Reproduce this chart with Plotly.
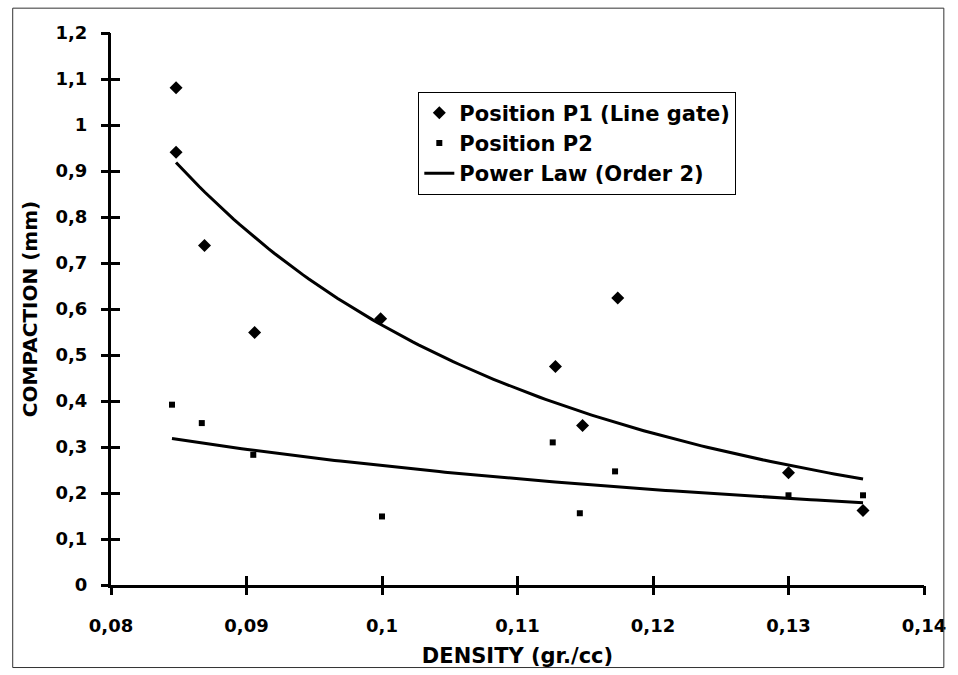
import numpy as np
import plotly.graph_objects as go

# ---- data ----
p1_density = [0.0848, 0.0848, 0.0869, 0.0906, 0.0999, 0.1128, 0.1148, 0.1174, 0.1300, 0.1355]
p1_compaction = [1.081, 0.941, 0.738, 0.549, 0.579, 0.475, 0.347, 0.624, 0.244, 0.162]

p2_density = [0.0845, 0.0867, 0.0905, 0.1000, 0.1126, 0.1146, 0.1172, 0.1300, 0.1355]
p2_compaction = [0.392, 0.352, 0.283, 0.149, 0.310, 0.156, 0.247, 0.195, 0.195]

x_range = [0.08, 0.14]
y_range = [0, 1.2]
x_tickvals = [0.08, 0.09, 0.10, 0.11, 0.12, 0.13, 0.14]
x_ticktext = ["0,08", "0,09", "0,1", "0,11", "0,12", "0,13", "0,14"]
y_tickvals = [0, 0.1, 0.2, 0.3, 0.4, 0.5, 0.6, 0.7, 0.8, 0.9, 1.0, 1.1, 1.2]
y_ticktext = ["0", "0,1", "0,2", "0,3", "0,4", "0,5", "0,6", "0,7", "0,8", "0,9", "1", "1,1", "1,2"]


def power_fit(xs, ys, n=120):
    lx, ly = np.log(xs), np.log(ys)
    b, ln_a = np.polyfit(lx, ly, 1)
    xx = np.linspace(min(xs), max(xs), n)
    return xx, np.exp(ln_a) * xx ** b


FONT = "DejaVu Sans"
TICK = 9  # tick half-length in pixels (ticks cross the axis line)

fig = go.Figure()
fig.add_trace(go.Scatter(
    x=p1_density, y=p1_compaction, mode="markers", name="Position P1 (Line gate)",
    marker=dict(symbol="diamond", size=10, color="black"),
    legendgroup="a"))
fig.add_trace(go.Scatter(
    x=p2_density, y=p2_compaction, mode="markers", name="Position P2",
    marker=dict(symbol="square", size=6, color="black"),
    legendgroup="b"))
fx1, fy1 = power_fit(p1_density, p1_compaction)
fig.add_trace(go.Scatter(
    x=fx1, y=fy1, mode="lines", name="Power Law (Order 2)",
    line=dict(color="black", width=3), legendgroup="c"))
fx2, fy2 = power_fit(p2_density, p2_compaction)
fig.add_trace(go.Scatter(
    x=fx2, y=fy2, mode="lines", showlegend=False,
    line=dict(color="black", width=3), legendgroup="c"))
# invisible carriers for the overlaid axes (outer tick halves, and labels)
for xa, ya in (("x2", "y2"), ("x3", "y3")):
    fig.add_trace(go.Scatter(
        x=p1_density, y=p1_compaction, mode="markers", xaxis=xa, yaxis=ya,
        marker=dict(opacity=0), showlegend=False, hoverinfo="skip"))

tickfont = dict(family=FONT, size=18, color="black", weight="bold")
clear = "rgba(0,0,0,0)"

frame = dict(
    type="rect", xref="paper", yref="paper",
    x0=-0.1209, x1=1.0244, y0=-0.1495, y1=1.045,
    line=dict(color="#333333", width=1))

fig.update_layout(
    width=958, height=675,
    margin=dict(l=111, r=28, t=33, b=87),
    paper_bgcolor="white", plot_bgcolor="white",
    showlegend=True,
    legend=dict(
        x=0.378, y=0.894, xanchor="left", yanchor="top",
        bordercolor="black", borderwidth=1, bgcolor="white",
        font=dict(family=FONT, size=21, color="black", weight="bold"),
        tracegroupgap=0, itemsizing="trace",
    ),
    # main axes: line + inner tick halves
    xaxis=dict(
        range=x_range, tickvals=x_tickvals, showticklabels=False,
        ticks="inside", ticklen=TICK, tickwidth=2.5, tickcolor="black",
        showline=True, linewidth=3, linecolor="black",
        showgrid=False, zeroline=False,
    ),
    yaxis=dict(
        range=y_range, tickvals=y_tickvals, showticklabels=False,
        ticks="inside", ticklen=TICK, tickwidth=2.5, tickcolor="black",
        showline=True, linewidth=3, linecolor="black",
        showgrid=False, zeroline=False,
    ),
    # outer tick halves
    xaxis2=dict(
        overlaying="x", anchor="y2", side="bottom", range=x_range,
        tickvals=x_tickvals, ticks="outside", ticklen=TICK, tickwidth=2.5, tickcolor="black",
        showticklabels=False, showline=False, showgrid=False, zeroline=False,
    ),
    yaxis2=dict(
        overlaying="y", anchor="x2", side="left", range=y_range,
        tickvals=y_tickvals, ticks="outside", ticklen=TICK, tickwidth=2.5, tickcolor="black",
        showticklabels=False, showline=False, showgrid=False, zeroline=False,
    ),
    # tick labels and titles (invisible long ticks only space the labels out)
    xaxis3=dict(
        overlaying="x", anchor="y3", side="bottom", range=x_range,
        tickvals=x_tickvals, ticktext=x_ticktext, tickfont=tickfont,
        ticks="outside", ticklen=2 * TICK + 6, tickcolor=clear,
        showline=False, showgrid=False, zeroline=False,
        title=dict(text="DENSITY (gr./cc)", standoff=13,
                   font=dict(family=FONT, size=21, color="black", weight="bold")),
    ),
    yaxis3=dict(
        overlaying="y", anchor="x3", side="left", range=y_range,
        tickvals=y_tickvals, ticktext=y_ticktext, tickfont=tickfont,
        ticks="outside", ticklen=TICK + 10, tickcolor=clear,
        showline=False, showgrid=False, zeroline=False,
        title=dict(text="COMPACTION (mm)", standoff=12,
                   font=dict(family=FONT, size=20, color="black", weight="bold")),
    ),
    shapes=[frame],
)

fig.write_html("out.html")
